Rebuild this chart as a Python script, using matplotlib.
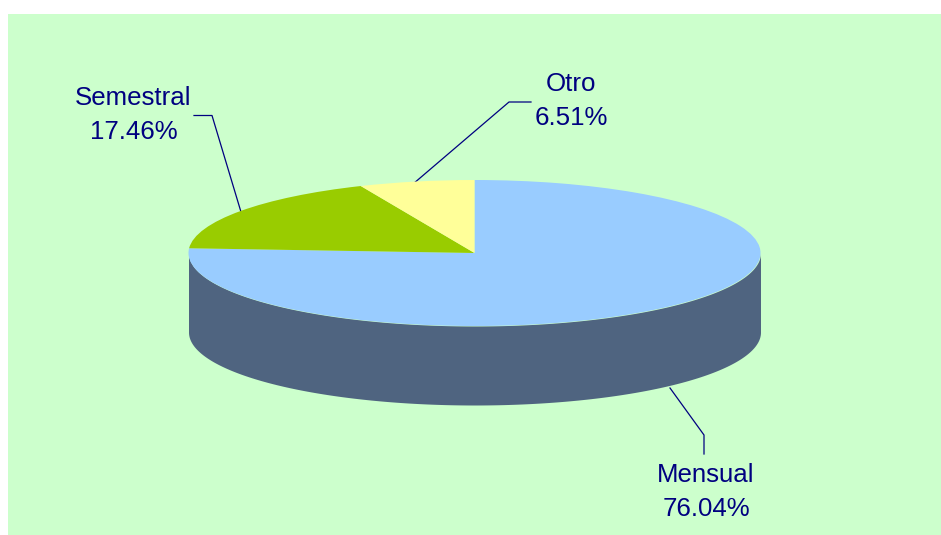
import numpy as np
import matplotlib
matplotlib.use('Agg')
import matplotlib.pyplot as plt
from matplotlib.patches import Rectangle

labels = ['Mensual', 'Semestral', 'Otro']
shares = [76.04, 17.46, 6.51]
colors = ['#99CCFF', '#99CC00', '#FFFF99']

W, H = 941, 535
plt.rcParams['font.family'] = ['Liberation Sans', 'DejaVu Sans']

fig = plt.figure(figsize=(W / 100, H / 100), dpi=100, facecolor='white')

# full-figure overlay in pixel coordinates for background, leader lines and labels
bg = fig.add_axes([0, 0, 1, 1])
bg.set_xlim(0, W)
bg.set_ylim(H, 0)
bg.axis('off')
bg.add_patch(Rectangle((8, 14), W - 8, H - 14, facecolor='#CCFFCC', edgecolor='none'))

cx, cy, rx, ry, depth = 474.5, 253, 286, 73, 79

# pie axes sized so that radius 1 is the ellipse
ax = fig.add_axes([(cx - rx) / W, 1 - (cy + ry) / H, 2 * rx / W, 2 * ry / H])
ax.set_facecolor('none')

# side wall
t = np.linspace(np.pi, 2 * np.pi, 200)
d = depth / ry
ax.fill_between(np.cos(t), np.sin(t), np.sin(t) - d, color='#4F6480', lw=0, clip_on=False)

wedges, _ = ax.pie(shares, colors=colors, startangle=90, counterclock=False, radius=1,
                   wedgeprops=dict(linewidth=0))
ax.set_aspect('auto')
ax.set_xlim(-1, 1)
ax.set_ylim(-1, 1)
for w in wedges:
    w.set_clip_on(False)

line_color = '#000080'
bg.plot([241, 212, 194], [212, 115.5, 115.5], color=line_color, lw=0.9)
bg.plot([413, 509, 531], [184, 102, 102], color=line_color, lw=0.9)
bg.plot([670, 704, 704], [388, 435, 454], color=line_color, lw=0.9)

text_style = dict(color=line_color, fontsize=18.6, ha='center', va='center', linespacing=1.5)
bg.text(133.5, 115, 'Semestral\n17.46%', **text_style)
bg.text(571, 101, 'Otro\n6.51%', **text_style)
bg.text(706, 492, 'Mensual\n76.04%', **text_style)

fig.savefig('out.png', dpi=100, facecolor='white')
